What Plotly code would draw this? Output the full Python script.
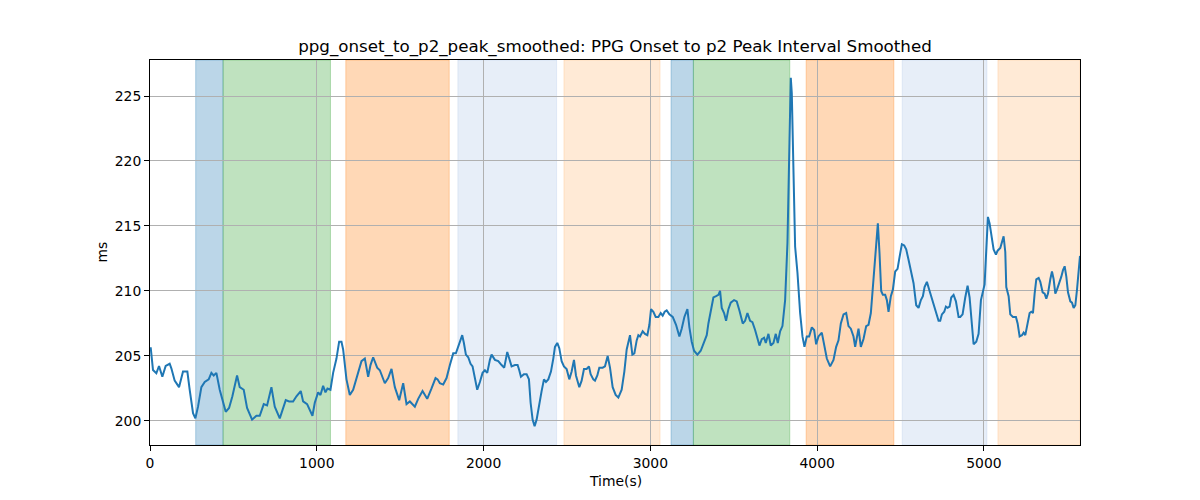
import plotly.graph_objects as go

# ---- data ----
time_s = [4, 18, 38, 54, 74, 94, 118, 128, 148, 174, 198, 224, 238, 258, 272, 288, 308, 328, 352, 368,
          382, 398, 418, 438, 454, 474, 494, 522, 538, 562, 582, 612, 638, 658, 682, 702, 728, 748, 778, 814, 834,
          858, 878, 904, 918, 942, 962, 974, 988, 1008, 1022, 1038, 1052, 1064, 1082, 1098, 1118, 1134, 1148,
          1158, 1178, 1198, 1218, 1248, 1268, 1288, 1308, 1322, 1338, 1362, 1378, 1408, 1428, 1448, 1468, 1494,
          1518, 1538, 1558, 1588, 1608, 1634, 1662, 1688, 1712, 1724,
          1738, 1758, 1778, 1798, 1818, 1834, 1848, 1858, 1872, 1882, 1894, 1908, 1922, 1934, 1946, 1962, 1978,
          1994, 2008, 2022, 2038, 2048, 2068, 2088, 2108, 2124, 2142, 2154, 2168, 2188, 2204, 2214, 2224, 2242,
          2258, 2272, 2282, 2294, 2306, 2318, 2332, 2348, 2362, 2374, 2388, 2404, 2418, 2428, 2442, 2454, 2468,
          2482, 2498, 2514, 2528, 2542, 2554, 2574, 2588, 2602, 2618, 2632, 2642,
          2658, 2668, 2682, 2694, 2714, 2728, 2744, 2758, 2774, 2792, 2808, 2828, 2844, 2858, 2878, 2892, 2904,
          2918, 2928, 2938, 2954, 2968, 2982, 2994, 3004, 3018, 3032, 3048, 3062, 3074, 3086, 3098, 3114, 3134,
          3154, 3174, 3188, 3204, 3222, 3234, 3248, 3262, 3282, 3302, 3322, 3338, 3348, 3362, 3378, 3394, 3408,
          3418, 3428, 3442, 3454, 3468, 3482, 3502, 3518, 3534,
          3554, 3568, 3582, 3598, 3612, 3628, 3642, 3654, 3668, 3682, 3692, 3708, 3722, 3738, 3752, 3764, 3778,
          3792, 3808, 3822, 3834, 3842, 3848, 3858, 3868, 3882, 3898, 3912, 3924, 3938, 3952, 3968, 3982, 3994,
          4008, 4028, 4042, 4058, 4078, 4098, 4114, 4128, 4142, 4158, 4174, 4188, 4202, 4218, 4228, 4238, 4248,
          4262, 4278, 4294, 4308, 4322, 4334, 4344, 4354, 4364, 4374, 4384, 4394, 4408, 4418, 4428, 4442,
          4454, 4468, 4482, 4494, 4508, 4522, 4534, 4548, 4562, 4578, 4594, 4608, 4622, 4634, 4644, 4658, 4672,
          4688, 4702, 4714, 4728, 4738, 4748, 4762, 4772, 4782, 4794, 4804, 4818, 4832, 4848, 4858, 4872, 4888,
          4902, 4914, 4924, 4938, 4954, 4968, 4982, 4994, 5004, 5012, 5024, 5034, 5048, 5058, 5072, 5082, 5098,
          5108, 5118, 5128, 5134, 5148, 5158, 5174, 5192, 5202, 5214, 5228, 5238, 5248, 5262, 5274, 5284, 5294,
          5304, 5314, 5328, 5338, 5352, 5364, 5374, 5384, 5398, 5408, 5418, 5428, 5438, 5452, 5464, 5474, 5484,
          5494, 5504, 5518, 5528, 5538, 5548, 5558, 5568, 5576]

interval_ms = [205.67, 203.92, 203.67, 204.23, 203.4, 204.23, 204.4, 204.05, 203.1, 202.6, 203.8, 203.8, 202.4,
               200.6, 200.2, 201.1, 202.6, 203.0, 203.2, 203.7, 203.5, 203.7, 202.4, 201.4, 200.7, 201.0, 201.9,
               203.5, 202.6, 202.4, 201.0, 200.1, 200.4, 200.4, 201.3, 201.2, 202.6, 201.1, 200.2, 201.6, 201.5,
               201.5, 201.9, 202.3, 201.5, 201.3, 200.8, 200.4, 201.4, 202.2, 202.0, 202.7, 202.2, 202.5, 202.4,
               203.7, 204.8, 206.1, 206.1, 205.5, 203.2, 202.0, 202.4, 203.7, 204.6, 204.8, 203.4, 204.3, 204.9,
               204.1, 203.9, 202.9, 203.3, 204.0, 202.6, 201.6, 202.9, 201.3, 201.5, 201.1, 201.7, 202.3, 201.7,
               202.5, 203.3, 203.2,
               202.9, 202.8, 203.3, 204.3, 205.2, 205.2, 205.7, 206.0, 206.6, 206.0, 205.1, 204.9, 204.4, 204.2,
               203.3, 202.4, 203.0, 203.7, 203.9, 203.7, 204.7, 205.1, 204.7, 204.6, 204.3, 204.1, 205.3, 204.7,
               204.2, 204.3, 204.3, 203.9, 203.4, 203.6, 203.6, 203.2, 201.4, 200.1, 199.6, 200.1, 201.3, 202.3,
               203.2, 203.0, 203.2, 203.8, 204.8, 205.7, 206.0, 205.6, 204.6, 204.2, 204.0, 203.2, 203.8, 204.7,
               203.5, 202.6, 203.1, 204.0, 204.0, 204.2, 203.6,
               203.2, 203.1, 203.5, 204.1, 204.1, 204.2, 205.0, 204.1, 202.6, 202.0, 201.8, 202.4, 203.8, 205.5,
               206.6, 205.1, 205.2, 206.2, 206.6, 206.5, 206.9, 206.7, 206.6, 207.4, 208.6, 208.4, 208.0, 208.0,
               208.3, 208.1, 208.4, 208.5, 208.2, 208.0, 207.4, 206.5, 207.1, 208.0, 208.6, 207.2, 206.1, 205.4,
               205.1, 205.4, 206.0, 206.6, 207.5, 208.6, 209.5, 209.6, 209.7, 210.0, 208.7, 208.3, 207.7, 208.6,
               209.1, 209.3, 209.2, 208.5,
               207.5, 207.7, 208.3, 207.7, 207.6, 207.0, 206.4, 205.8, 206.3, 206.4, 206.0, 206.7, 205.8, 206.0,
               206.7, 206.0, 206.9, 207.3, 209.3, 213.7, 221.4, 226.4, 225.2, 218.0, 213.4, 211.4, 208.3, 206.5,
               205.7, 206.5, 206.5, 207.2, 207.0, 205.9, 206.5, 206.8, 205.7, 204.8, 204.2, 204.7, 205.7, 206.2,
               207.5, 208.2, 208.3, 207.3, 207.1, 206.5, 205.7, 206.4, 207.1, 205.7, 206.3, 207.3, 207.4, 208.3,
               210.1, 212.1, 213.2, 215.2, 212.9, 210.0, 209.7, 209.7, 209.3, 208.4, 209.6,
               210.1, 211.5, 211.7, 212.6, 213.6, 213.5, 213.2, 212.4, 211.5, 210.6, 208.9, 208.7, 209.3, 209.6,
               210.3, 210.7, 210.1, 209.4, 208.8, 208.3, 207.7, 207.7, 208.2, 208.4, 208.8, 208.7, 208.8, 209.5,
               209.7, 209.2, 208.0, 208.0, 208.2, 209.5, 210.4, 209.5, 207.8, 205.9, 206.1, 206.7, 209.3, 209.9,
               210.5, 212.6, 215.7, 215.2, 213.9, 213.2, 212.8, 213.1, 213.3, 213.8, 214.2, 213.0, 210.3, 209.6,
               208.2, 208.0, 208.0, 207.5, 206.5, 206.6, 206.8, 206.6, 207.4, 208.3, 208.4, 208.3, 209.8, 210.9,
               211.0, 210.7, 209.9, 209.8, 209.4, 209.8, 210.9, 211.5, 210.9, 209.8, 210.1, 210.6, 211.1, 211.6,
               211.9, 211.1, 209.9, 209.2, 209.1, 208.7, 208.9, 210.1, 211.9, 212.7]

region_starts = [274, 438, 1174, 1846, 2482, 3124, 3258, 3934, 4510, 5084]
region_ends = [438, 1082, 1794, 2438, 3058, 3258, 3836, 4460, 5018, 5576]
region_colors = ["#1f77b4", "#2ca02c", "#ff7f0e", "#aec7e8", "#ffbb78",
                 "#1f77b4", "#2ca02c", "#ff7f0e", "#aec7e8", "#ffbb78"]

x_ticks = [0, 1000, 2000, 3000, 4000, 5000]
y_ticks = [200, 205, 210, 215, 220, 225]

title_text = "ppg_onset_to_p2_peak_smoothed: PPG Onset to p2 Peak Interval Smoothed"
x_label = "Time(s)"
y_label = "ms"


def rgba(hex_color, a):
    h = hex_color.lstrip("#")
    r, g, b = int(h[0:2], 16), int(h[2:4], 16), int(h[4:6], 16)
    return f"rgba({r},{g},{b},{a})"


fig = go.Figure()
fig.add_trace(go.Scatter(x=time_s, y=interval_ms, mode="lines",
                         line=dict(color="#1f77b4", width=2), showlegend=False))

for s, e, c in zip(region_starts, region_ends, region_colors):
    fig.add_shape(type="rect", xref="x", yref="paper", x0=s, x1=e, y0=0, y1=1,
                  fillcolor=rgba(c, 0.3), line=dict(color=rgba(c, 0.3), width=1), layer="below")

font_family = "DejaVu Sans"
fig.update_layout(
    width=1200, height=500,
    margin=dict(l=150, r=120, t=60, b=55),
    paper_bgcolor="white", plot_bgcolor="white",
    font=dict(family=font_family, size=14, color="black"),
    title=dict(text=title_text, x=0.5125, xanchor="center", yref="container", y=1 - 46 / 500,
               yanchor="middle", font=dict(family=font_family, size=16.7, color="black")),
    xaxis=dict(range=[0, 5576], tickvals=x_ticks, ticks="outside", ticklen=5, tickcolor="black",
               showline=True, linecolor="black", linewidth=1, mirror=True,
               showgrid=True, gridcolor="#b0b0b0", gridwidth=1, zeroline=False,
               tickfont=dict(size=13.9)),
    yaxis=dict(range=[198.15, 227.77], tickvals=y_ticks, ticks="outside", ticklen=5, tickcolor="black",
               showline=True, linecolor="black", linewidth=1, mirror=True,
               showgrid=True, gridcolor="#b0b0b0", gridwidth=1, zeroline=False,
               tickfont=dict(size=13.9)),
    annotations=[
        dict(text=x_label, xref="paper", yref="paper", x=0.5, y=0, xanchor="center", yanchor="middle",
             yshift=-36, showarrow=False, font=dict(size=13.9)),
        dict(text=y_label, xref="paper", yref="paper", x=0, y=0.5, xanchor="center", yanchor="middle",
             xshift=-49, textangle=-90, showarrow=False, font=dict(size=13.9)),
    ],
)

fig.write_html("out.html", config={"displayModeBar": False},
               post_script="document.body.style.margin='0';")
